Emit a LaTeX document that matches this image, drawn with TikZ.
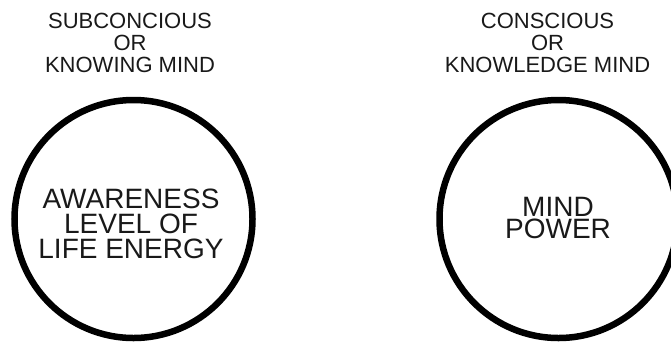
\documentclass[tikz,border=0pt]{standalone}
\usepackage{fontspec}
\setmainfont{Liberation Sans}
\begin{document}
\begin{tikzpicture}[x=1pt,y=-1pt,
  ring/.style={circle, draw=black, line width=6.5pt, minimum size=238pt, inner sep=0pt},
  head/.style={align=center, font=\fontsize{22}{22}\selectfont, anchor=base, inner sep=0pt, text=black!90},
  inside/.style={align=center, font=\fontsize{28}{25}\selectfont, anchor=base, inner sep=0pt, text=black!90}]
\useasboundingbox (0,0) rectangle (671,343);
\clip (0,0) rectangle (671,343);
\node[ring] (leftring) at (133.5,219) {};
\node[ring] (rightring) at (558.5,219) {};
\node[head] (lefthead) at (130,72) {SUBCONCIOUS\\OR\\KNOWING MIND};
\node[head] (righthead) at (547.5,72) {CONSCIOUS\\OR\\KNOWLEDGE MIND};
\node[inside] (lefttext) at (131,258) {AWARENESS\\LEVEL OF\\LIFE ENERGY};
\node[inside, font=\fontsize{28}{22}\selectfont] (righttext) at (558,238) {MIND\\POWER};
\end{tikzpicture}
\end{document}
